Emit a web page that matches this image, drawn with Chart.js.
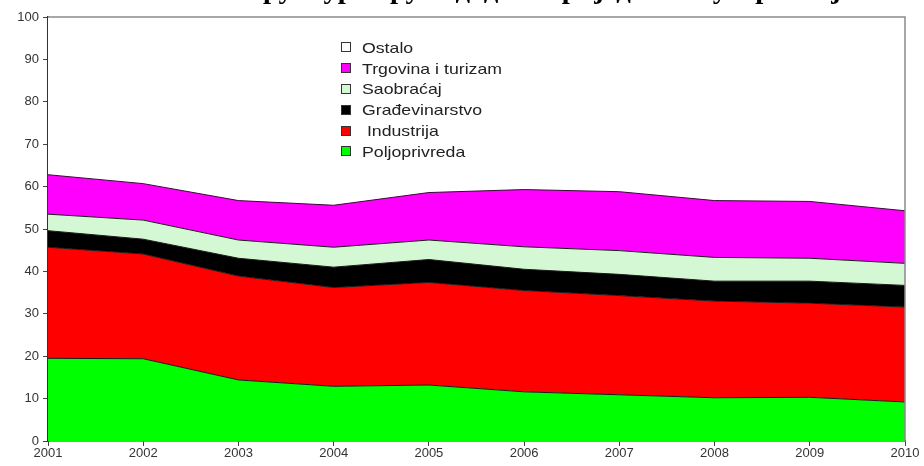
<!DOCTYPE html>
<html>
<head>
<meta charset="utf-8">
<script src="https://cdn.jsdelivr.net/npm/chart.js@4/dist/chart.umd.min.js"></script>
<style>
  body { margin: 0; background: #fff; }
  #wrap { position: relative; width: 924px; height: 466px; overflow: hidden; background: #fff; }
  #title { position: absolute; left: 228px; top: -25px; font: bold 28px "Liberation Serif", serif; line-height: 28px; white-space: nowrap; color: #000; transform: scaleX(1.03); transform-origin: left top; }
  #legend { position: absolute; left: 341px; top: 37px; font: 15px "Liberation Sans", Arial, sans-serif; color: #222; }
  .item { height: 20.8px; display: flex; align-items: center; white-space: pre; }
  .box { width: 8px; height: 8px; border: 1px solid #333; margin-right: 11px; flex: none; }
  .txt { display: inline-block; transform: scaleX(1.18); transform-origin: left center; }
</style>
</head>
<body>
<div id="wrap">
  <canvas id="chart" width="924" height="466"></canvas>
  <div id="title">Структура бруто додате вриједности у Српској</div>
  <div id="legend"></div>
</div>
<script>
// godine i udio djelatnosti (%)
const years = ['2001', '2002', '2003', '2004', '2005', '2006', '2007', '2008', '2009', '2010'];
const poljoprivreda = [19.5, 19.4, 14.4, 12.9, 13.2, 11.6, 10.9, 10.2, 10.3, 9.2];
const industrija = [26.2, 24.7, 24.5, 23.3, 24.2, 23.9, 23.4, 22.8, 22.2, 22.4];
const gradjevinarstvo = [3.9, 3.5, 4.2, 4.8, 5.4, 5.0, 5.0, 4.7, 5.2, 5.1];
const saobracaj = [3.9, 4.5, 4.3, 4.7, 4.6, 5.3, 5.6, 5.6, 5.4, 5.2];
const trgovina = [9.3, 8.6, 9.3, 9.9, 11.2, 13.5, 13.9, 13.4, 13.4, 12.4];
const ostalo = [37.2, 39.3, 43.3, 44.4, 41.4, 40.7, 41.2, 43.3, 43.5, 45.7];
const yTicks = [0, 10, 20, 30, 40, 50, 60, 70, 80, 90, 100];

const series = [
    { label: 'Poljoprivreda', data: poljoprivreda, color: '#00ff00' },
    { label: 'Industrija', data: industrija, color: '#ff0000' },
    { label: 'Građevinarstvo', data: gradjevinarstvo, color: '#000000' },
    { label: 'Saobraćaj', data: saobracaj, color: '#d4f7d4' },
    { label: 'Trgovina i turizam', data: trgovina, color: '#ff00ff' },
    { label: 'Ostalo', data: ostalo, color: '#ffffff' }
];

// legenda: odozgo nadolje obrnutim redom
const legendLabels = ['Ostalo', 'Trgovina i turizam', 'Saobraćaj', 'Građevinarstvo', ' Industrija', 'Poljoprivreda'];
const legend = document.getElementById('legend');
series.slice().reverse().forEach((s, i) => {
    const row = document.createElement('div');
    row.className = 'item';
    row.innerHTML = `<span class="box" style="background:${s.color}"></span><span class="txt">${legendLabels[i]}</span>`;
    legend.appendChild(row);
});

// okvir oko površine grafika (gornja i desna ivica)
const frame = {
    id: 'frame',
    afterDatasetsDraw(chart) {
        const a = chart.chartArea;
        const ctx = chart.ctx;
        ctx.save();
        ctx.strokeStyle = '#8a8a8a';
        ctx.lineWidth = 1.5;
        ctx.beginPath();
        ctx.moveTo(a.left, a.top);
        ctx.lineTo(a.right, a.top);
        ctx.lineTo(a.right, a.bottom);
        ctx.stroke();
        ctx.restore();
    }
};

new Chart(document.getElementById('chart'), {
    type: 'line',
    data: {
        labels: years,
        datasets: series.map((s, i) => ({
            label: s.label,
            data: s.data,
            backgroundColor: s.color,
            borderColor: i === 5 ? 'rgba(0,0,0,0)' : (i === 4 ? '#3a0a3a' : '#1a1a1a'),
            borderWidth: i === 5 ? 0 : 1,
            fill: i === 0 ? 'origin' : '-1',
            pointRadius: 0,
            tension: 0
        }))
    },
    plugins: [frame],
    options: {
        responsive: false,
        animation: false,
        layout: { padding: { left: 0, right: 19, top: 17, bottom: 0 } },
        plugins: { legend: { display: false }, tooltip: { enabled: false } },
        scales: {
            x: {
                offset: false,
                grid: { display: true, drawOnChartArea: false, drawTicks: true, tickLength: 5, color: '#444' },
                border: { display: true, color: '#333', width: 1.5 },
                ticks: { color: '#333', font: { family: 'Liberation Sans', size: 13 }, padding: 0, maxRotation: 0, autoSkip: false },
                afterFit: (scale) => { scale.height = 25; }
            },
            y: {
                stacked: true,
                min: 0,
                max: 100,
                afterBuildTicks: (scale) => { scale.ticks = yTicks.map(v => ({ value: v })); },
                grid: { display: true, drawOnChartArea: false, drawTicks: true, tickLength: 5, color: '#444' },
                border: { display: true, color: '#333', width: 1.5 },
                ticks: { color: '#333', font: { family: 'Liberation Sans', size: 13 }, padding: 4 },
                afterFit: (scale) => { scale.width = 48; }
            }
        }
    }
});
</script>
</body>
</html>
